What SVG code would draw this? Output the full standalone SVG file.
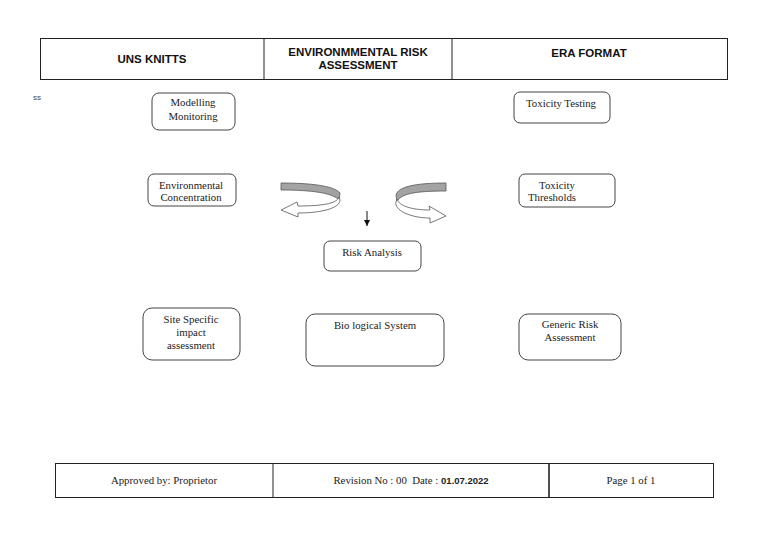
<svg xmlns="http://www.w3.org/2000/svg" width="768" height="543" viewBox="0 0 768 543">
<defs>
<style>
.node{fill:#fff;stroke:#444;stroke-width:1}
.t{font-family:"Liberation Serif",serif;font-size:10.8px;fill:#222;text-anchor:middle}
.ts{text-anchor:start}
.h{font-family:"Liberation Sans",Arial,sans-serif;font-size:11.5px;font-weight:bold;fill:#111;text-anchor:middle}
.cell{fill:none;stroke:#222;stroke-width:1}
.band{fill:#a3a3a3;stroke:#555;stroke-width:0.8}
.warr{fill:#fff;stroke:#555;stroke-width:0.8}
</style>
<marker id="ah" markerWidth="6" markerHeight="6" refX="6" refY="3" orient="auto" markerUnits="userSpaceOnUse"><path d="M0,0 L6,3 L0,6 Z" fill="#111"/></marker>
</defs>
<rect width="768" height="543" fill="#fff"/>
<g id="header">
<rect class="cell" x="40.5" y="38.5" width="687" height="41"/>
<line class="cell" x1="264" y1="38" x2="264" y2="80"/>
<line class="cell" x1="452" y1="38" x2="452" y2="80"/>
<text class="h" x="152" y="63">UNS KNITTS</text>
<text class="h" x="358" y="56">ENVIRONMMENTAL RISK</text>
<text class="h" x="358" y="69">ASSESSMENT</text>
<text class="h" x="589" y="57">ERA FORMAT</text>
</g>
<text x="33" y="100" font-family="Liberation Sans,sans-serif" font-size="8" fill="#444">ss</text>
<g id="modelling"><rect class="node" x="152" y="93" width="83" height="37" rx="7"/><text class="t" x="193" y="106">Modelling</text><text class="t" x="193" y="120">Monitoring</text></g>
<g id="envconc"><rect class="node" x="148" y="174" width="88" height="32" rx="6"/><text class="t" x="191" y="189">Environmental</text><text class="t" x="191" y="201">Concentration</text></g>
<g id="toxtest"><rect class="node" x="514" y="92" width="96" height="31" rx="6"/><text class="t" x="561" y="107">Toxicity Testing</text></g>
<g id="toxthr"><rect class="node" x="519" y="174" width="96" height="33" rx="6"/><text class="t" x="557" y="189">Toxicity</text><text class="t ts" x="528" y="201">Thresholds</text></g>
<g id="risk"><rect class="node" x="324" y="241" width="97" height="30" rx="6"/><text class="t" x="372" y="256">Risk Analysis</text></g>
<g id="site"><rect class="node" x="143" y="308" width="97" height="52" rx="9"/><text class="t" x="191" y="323">Site Specific</text><text class="t" x="191" y="336">impact</text><text class="t" x="191" y="349">assessment</text></g>
<g id="bio"><rect class="node" x="306" y="314" width="138" height="52" rx="9"/><text class="t" x="375" y="329">Bio logical System</text></g>
<g id="generic"><rect class="node" x="519" y="314" width="102" height="46" rx="9"/><text class="t" x="570" y="328">Generic Risk</text><text class="t" x="570" y="341">Assessment</text></g>
<g id="connectors">
<path class="band" d="M281,183 C312,183 334,186 340,193 L339,200 C333,193 312,190 281,190 Z"/>
<path class="warr" d="M339,197 C337,204 320,206 298,206 L297,202 L281,210 L298,217 L298,213 C322,213 340,208 340,200 Z"/>
<path class="band" d="M446,183 C414,183 398,187 396,195 L397,202 C400,194 414,191 446,191 Z"/>
<path class="warr" d="M397,199 C399,206 412,210 430,210 L429,206 L446,216 L430,223 L430,218 C410,218 394,210 396,202 Z"/>
<line x1="367" y1="211" x2="367" y2="226" stroke="#111" stroke-width="1" marker-end="url(#ah)"/>
</g>
<g id="footer">
<rect class="cell" x="55.5" y="463.5" width="658" height="34"/>
<line class="cell" x1="273" y1="463" x2="273" y2="498"/>
<line x1="549" y1="463" x2="549" y2="498" stroke="#222" stroke-width="1.6"/>
<text class="t" x="164" y="484">Approved by: Proprietor</text>
<text class="t" x="411" y="484">Revision No : 00&#160; Date : <tspan font-family="Liberation Sans,sans-serif" font-weight="bold" font-size="9.5">01.07.2022</tspan></text>
<text class="t" x="631" y="484">Page 1 of 1</text>
</g>
</svg>
